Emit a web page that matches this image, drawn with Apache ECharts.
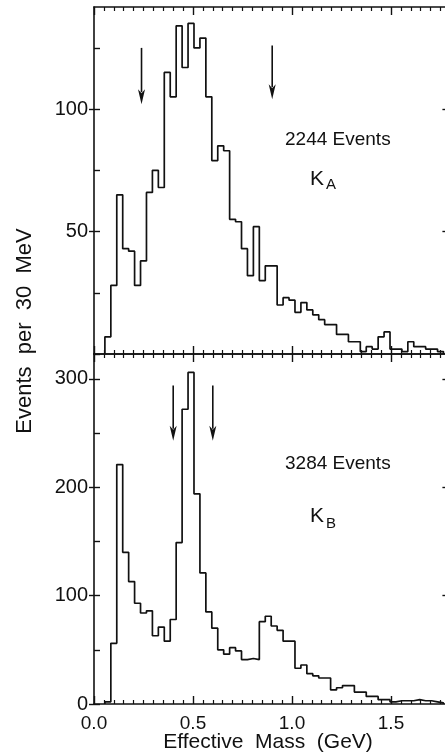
<!DOCTYPE html>
<html lang="en">
<head>
<meta charset="UTF-8">
<title>Effective Mass</title>
<script src="https://cdn.jsdelivr.net/npm/echarts@6/dist/echarts.min.js"></script>
<style>
html, body { margin: 0; padding: 0; background: #fff; }
#main { width: 445px; height: 754px; }
</style>
</head>
<body>
<div id="main"></div>
<script>
// 30 MeV bins
var binStart = 0.055;
var binWidth = 0.03;

// K_A (top), 2244 events
var countsA = [7, 28, 65, 43, 42, 28, 38, 66, 75, 68,
               115, 105, 134, 117, 135, 125, 129, 105, 79, 85,
               83, 55, 54, 43, 32, 52, 30, 36, 36, 20,
               23, 22, 17, 21, 18, 16, 14, 12, 12, 8,
               8, 5, 5, 1, 3, 2, 7, 9, 2, 2,
               1, 5, 3, 3, 2, 2, 1];
// K_B (bottom), 3284 events
var countsB = [2, 56, 221, 140, 113, 93, 84, 86, 63, 71,
               58, 78, 149, 272, 306, 194, 121, 85, 70, 50,
               46, 52, 49, 41, 42, 41, 76, 81, 72, 68,
               58, 58, 33, 36, 28, 26, 24, 24, 13, 15,
               17, 17, 11, 11, 7, 7, 4, 4, 2, 3,
               3, 3, 4, 3, 3, 2, 1];

// arrows: [mass, top, tip]
var arrowsA = [[0.24, 125, 102], [0.90, 126, 104]];
var arrowsB = [[0.40, 294, 243], [0.60, 294, 243]];

var yTicksA = [0, 25, 50, 75, 100, 125];
var yLabelsA = [50, 100];
var yTicksB = [0, 50, 100, 150, 200, 250, 300];
var yLabelsB = [0, 100, 200, 300];
var yRightA = [50, 100];
var yRightB = [100, 200, 300];

var INK = '#111';
var FONT = 'Liberation Sans';

function steps(counts) {
    var pts = [[binStart, 0]];
    for (var i = 0; i < counts.length; i++) {
        pts.push([+(binStart + i * binWidth).toFixed(3), counts[i]]);
    }
    pts.push([+(binStart + counts.length * binWidth).toFixed(3), 0]);
    return pts;
}

function xAxis(grid, pos, labels) {
    return {
        type: 'value', gridIndex: grid, position: pos,
        min: 0, max: 1.8, interval: 0.5,
        axisLine: { show: true, onZero: false, lineStyle: { color: INK, width: 1.6 } },
        axisTick: { show: true, inside: true, length: 8, lineStyle: { color: INK, width: 1.4 } },
        minorTick: { show: true, splitNumber: 10, length: 4, lineStyle: { color: INK, width: 1.2 } },
        splitLine: { show: false },
        axisLabel: {
            show: labels, color: INK, fontFamily: FONT, fontSize: 19, margin: 10,
            formatter: function (v) { return v <= 1.5 ? v.toFixed(1) : ''; }
        }
    };
}

function yInner(grid, max, ticks) {
    return {
        type: 'value', gridIndex: grid, position: 'left', min: 0, max: max,
        axisLine: { show: true, onZero: false, lineStyle: { color: INK, width: 1.6 } },
        axisTick: { show: true, inside: true, length: 6, customValues: ticks, lineStyle: { color: INK, width: 1.4 } },
        axisLabel: { show: false },
        splitLine: { show: false }
    };
}

function yLabelled(grid, max, labels) {
    return {
        type: 'value', gridIndex: grid, position: 'left', min: 0, max: max,
        axisLine: { show: false, onZero: false },
        axisTick: { show: true, inside: false, length: 5, customValues: labels, lineStyle: { color: INK, width: 1.4 } },
        axisLabel: { show: true, customValues: labels, color: INK, fontFamily: FONT, fontSize: 20, margin: 6 },
        splitLine: { show: false }
    };
}

function yRight(grid, max, ticks) {
    return {
        type: 'value', gridIndex: grid, position: 'right', min: 0, max: max,
        axisLine: { show: true, onZero: false, lineStyle: { color: INK, width: 1.6 } },
        axisTick: { show: true, inside: true, length: 8, customValues: ticks, lineStyle: { color: INK, width: 1.4 } },
        axisLabel: { show: false },
        splitLine: { show: false }
    };
}

function arrowItem(params, api) {
    var top = api.coord([api.value(0), api.value(1)]);
    var tip = api.coord([api.value(0), api.value(2)]);
    var headLen = 15, headW = 3.5;
    return {
        type: 'group',
        children: [
            { type: 'line', shape: { x1: top[0], y1: top[1], x2: tip[0], y2: tip[1] - headLen + 3 },
              style: { stroke: INK, lineWidth: 1.6 } },
            { type: 'polygon',
              shape: { points: [[tip[0], tip[1]], [tip[0] - headW, tip[1] - headLen],
                                [tip[0], tip[1] - headLen + 4], [tip[0] + headW, tip[1] - headLen]] },
              style: { fill: INK } }
        ]
    };
}

var chart = echarts.init(document.getElementById('main'));
var option = {
    animation: false,
    backgroundColor: '#fff',
    grid: [
        { left: 94, top: 7, width: 356.4, height: 347, outerBoundsMode: 'none', containLabel: false },
        { left: 94, top: 354, width: 356.4, height: 350, outerBoundsMode: 'none', containLabel: false }
    ],
    xAxis: [
        xAxis(0, 'bottom', false),
        xAxis(0, 'top', false),
        xAxis(1, 'top', false),
        xAxis(1, 'bottom', true)
    ],
    yAxis: [
        yInner(0, 141.7, yTicksA),
        yLabelled(0, 141.7, yLabelsA),
        yRight(0, 141.7, yRightA),
        yInner(1, 323, yTicksB),
        yLabelled(1, 323, yLabelsB),
        yRight(1, 323, yRightB)
    ],
    series: [
        { type: 'line', xAxisIndex: 0, yAxisIndex: 0, step: 'end', symbol: 'none',
          lineStyle: { color: INK, width: 1.7 }, data: steps(countsA) },
        { type: 'line', xAxisIndex: 3, yAxisIndex: 3, step: 'end', symbol: 'none',
          lineStyle: { color: INK, width: 1.7 }, data: steps(countsB) },
        { type: 'custom', xAxisIndex: 0, yAxisIndex: 0, renderItem: arrowItem,
          encode: { x: 0, y: [1, 2] }, data: arrowsA },
        { type: 'custom', xAxisIndex: 3, yAxisIndex: 3, renderItem: arrowItem,
          encode: { x: 0, y: [1, 2] }, data: arrowsB }
    ],
    graphic: [
        { type: 'text', x: 25, y: 331, rotation: Math.PI / 2,
          style: { text: 'Events  per  30  MeV', fill: INK, font: '22px "Liberation Sans"', align: 'center', verticalAlign: 'middle' } },
        { type: 'text', x: 268, y: 742,
          style: { text: 'Effective  Mass  (GeV)', fill: INK, font: '21px "Liberation Sans"', align: 'center', verticalAlign: 'middle' } },
        { type: 'text', x: 285, y: 140,
          style: { text: '2244 Events', fill: INK, font: '19px "Liberation Sans"', align: 'left', verticalAlign: 'middle' } },
        { type: 'text', x: 310, y: 179,
          style: { text: 'K', fill: INK, font: '21px "Liberation Sans"', align: 'left', verticalAlign: 'middle' } },
        { type: 'text', x: 326, y: 185,
          style: { text: 'A', fill: INK, font: '15px "Liberation Sans"', align: 'left', verticalAlign: 'middle' } },
        { type: 'text', x: 285, y: 464,
          style: { text: '3284 Events', fill: INK, font: '19px "Liberation Sans"', align: 'left', verticalAlign: 'middle' } },
        { type: 'text', x: 310, y: 516,
          style: { text: 'K', fill: INK, font: '21px "Liberation Sans"', align: 'left', verticalAlign: 'middle' } },
        { type: 'text', x: 326, y: 524,
          style: { text: 'B', fill: INK, font: '15px "Liberation Sans"', align: 'left', verticalAlign: 'middle' } }
    ]
};
chart.setOption(option);
</script>
</body>
</html>
